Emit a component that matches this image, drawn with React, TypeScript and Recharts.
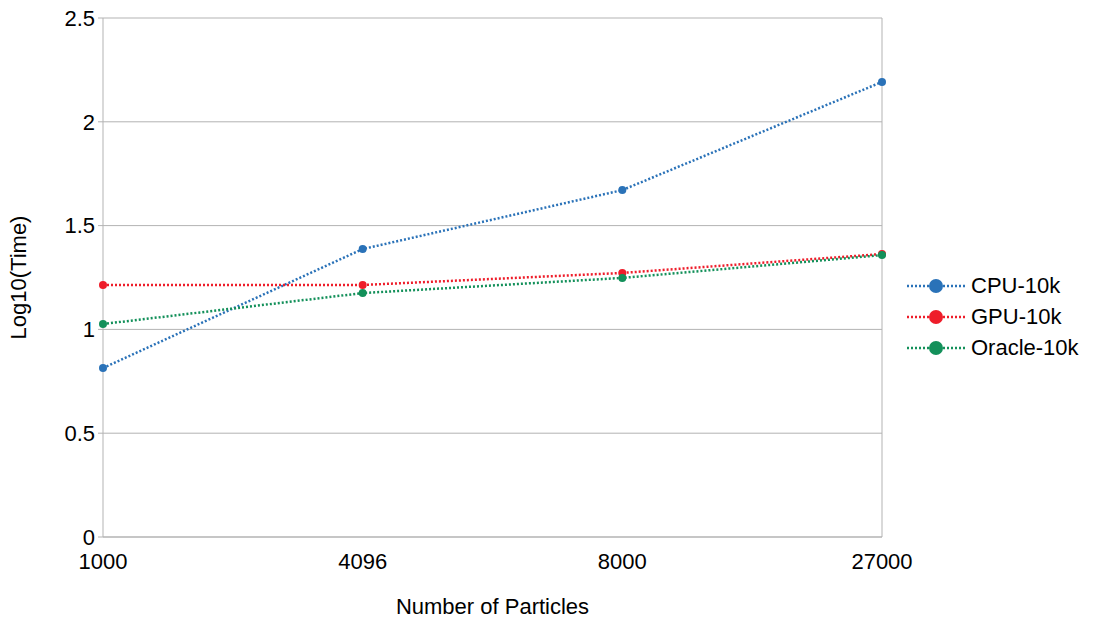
import React from 'react';
import {
  LineChart, Line, XAxis, YAxis, CartesianGrid, ReferenceLine, Label,
} from 'recharts';

// Values.
const particles = ['1000', '4096', '8000', '27000'];
const cpu10k = [0.814, 1.387, 1.671, 2.192];
const gpu10k = [1.214, 1.214, 1.272, 1.363];
const oracle10k = [1.026, 1.175, 1.248, 1.358];
const yTicks = [0, 0.5, 1, 1.5, 2, 2.5];

const COLORS = {
  cpu: '#2a72b8',
  gpu: '#ee1d2a',
  oracle: '#13905a',
  grid: '#b3b3b3',
  text: '#000000',
};

const FONT = '"Liberation Sans", Arial, sans-serif';
const FS = 22;

const SERIES = [
  { key: 'cpu', name: 'CPU-10k', color: COLORS.cpu },
  { key: 'gpu', name: 'GPU-10k', color: COLORS.gpu },
  { key: 'oracle', name: 'Oracle-10k', color: COLORS.oracle },
];

const data = particles.map((p, i) => ({
  particles: p,
  cpu: cpu10k[i],
  gpu: gpu10k[i],
  oracle: oracle10k[i],
}));

// Legend drawn as plain HTML so it doesn't shrink the plot area.
function LegendBox() {
  return (
    <div style={{ position: 'absolute', left: 906, top: 270, fontFamily: FONT, fontSize: FS, color: COLORS.text }}>
      {SERIES.map((s) => (
        <div key={s.key} style={{ display: 'flex', alignItems: 'center', height: 31 }}>
          <svg width={60} height={20} style={{ marginRight: 5 }}>
            <line x1={1} y1={10} x2={59} y2={10} stroke={s.color} strokeWidth={2.5} strokeDasharray="2 2" />
            <circle cx={30} cy={10} r={7} fill={s.color} />
          </svg>
          <span>{s.name}</span>
        </div>
      ))}
    </div>
  );
}

export default function App() {
  return (
    <div style={{ position: 'absolute', left: 0, top: 0, width: 1093, height: 622, background: '#fff' }}>
      <LineChart
        width={1093}
        height={622}
        data={data}
        margin={{ top: 18, right: 211, bottom: 0, left: 0 }}
      >
        <CartesianGrid stroke={COLORS.grid} vertical={false} />
        <ReferenceLine x="27000" stroke={COLORS.grid} />
        <XAxis
          dataKey="particles"
          height={85}
          stroke={COLORS.grid}
          tickLine={false}
          tick={{ fontSize: FS, fill: COLORS.text, fontFamily: FONT }}
          tickMargin={10}
        >
          <Label
            value="Number of Particles"
            position="insideBottom"
            offset={8}
            style={{ fontSize: FS, fill: COLORS.text, fontFamily: FONT }}
          />
        </XAxis>
        <YAxis
          width={103}
          domain={[0, 2.5]}
          ticks={yTicks}
          stroke={COLORS.grid}
          tickSize={5}
          tickMargin={3}
          tick={{ fontSize: FS, fill: COLORS.text, fontFamily: FONT }}
        >
          <Label
            value="Log10(Time)"
            angle={-90}
            position="insideLeft"
            offset={18}
            style={{ fontSize: FS, fill: COLORS.text, fontFamily: FONT, textAnchor: 'middle' }}
          />
        </YAxis>
        {SERIES.map((s) => (
          <Line
            key={s.key}
            type="linear"
            dataKey={s.key}
            name={s.name}
            stroke={s.color}
            strokeWidth={2.5}
            strokeDasharray="2 2"
            dot={{ r: 4, fill: s.color, stroke: s.color, strokeWidth: 0 }}
            activeDot={false}
            isAnimationActive={false}
          />
        ))}
      </LineChart>
      <LegendBox />
    </div>
  );
}
